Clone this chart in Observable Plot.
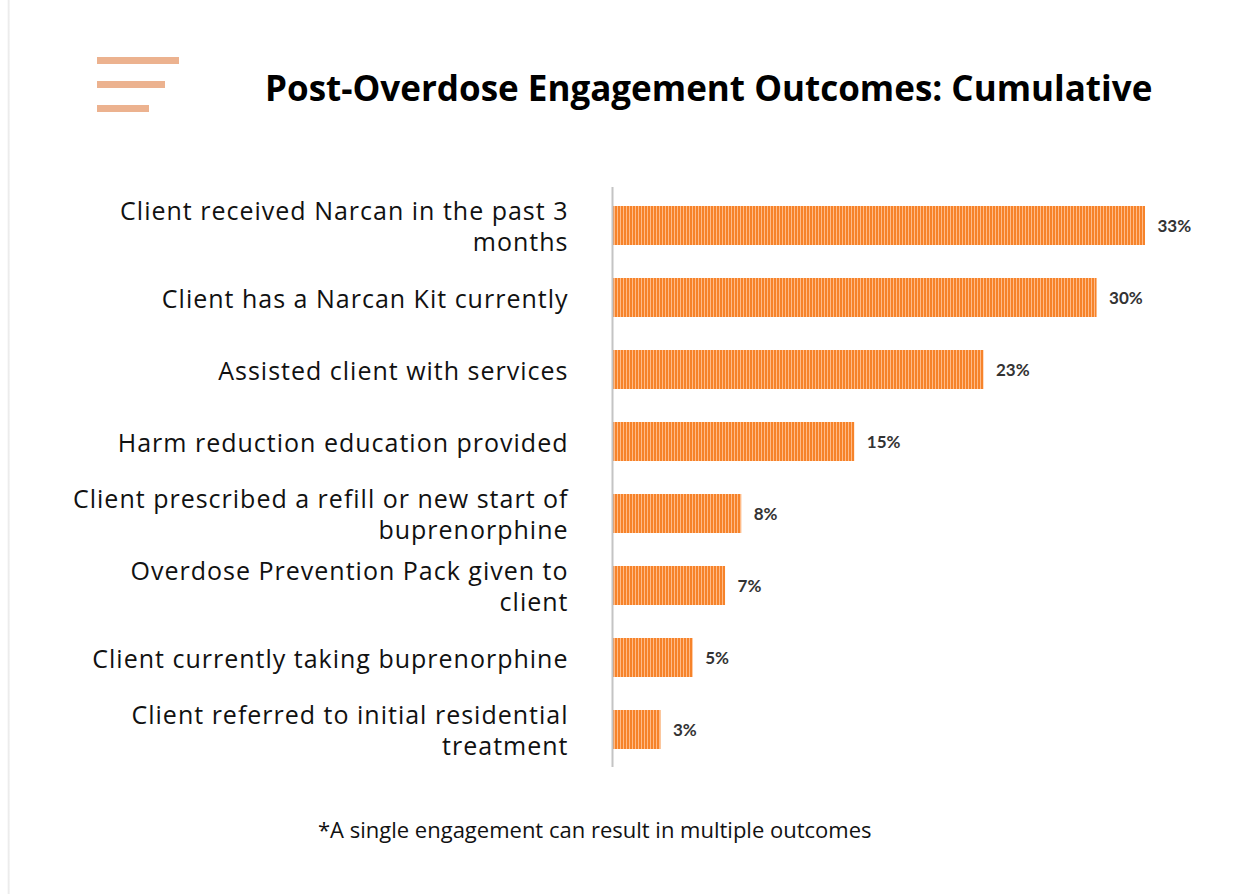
<!DOCTYPE html>
<html><head><meta charset="utf-8">
<script src="https://cdn.jsdelivr.net/npm/d3@7"></script>
<script src="https://cdn.jsdelivr.net/npm/@observablehq/plot@0.6"></script>
<style>
body{margin:0;background:#fff;width:1234px;height:894px;overflow:hidden;position:relative;font-family:"Open Sans",sans-serif;}
#edge{position:absolute;left:7px;top:0;width:3px;height:894px;background:linear-gradient(to right,#fff,#ececec,#f7f7f7);}
.icon{position:absolute;left:97px;height:7px;background:#ECB28F;}
#title{position:absolute;left:265px;top:70px;font-weight:700;font-size:35px;line-height:1;color:#000;white-space:nowrap;}
#chart{position:absolute;left:0;top:160px;}
#note{position:absolute;left:318px;top:818px;font-size:22px;line-height:1;color:#111;white-space:nowrap;}
.cat-labels text{letter-spacing:1px;}
</style></head>
<body>
<div id="edge"></div>
<div class="icon" style="top:57px;width:82px"></div>
<div class="icon" style="top:81px;width:68px"></div>
<div class="icon" style="top:105px;width:52px"></div>
<div id="title">Post-Overdose Engagement Outcomes: Cumulative</div>
<div id="chart"></div>
<div id="note">*A single engagement can result in multiple outcomes</div>
<script>
const categories = [
  "Client received Narcan in the past 3\nmonths",
  "Client has a Narcan Kit currently",
  "Assisted client with services",
  "Harm reduction education provided",
  "Client prescribed a refill or new start of\nbuprenorphine",
  "Overdose Prevention Pack given to\nclient",
  "Client currently taking buprenorphine",
  "Client referred to initial residential\ntreatment"
];
const values = [33, 30, 23, 15, 8, 7, 5, 3];
const valueLabels = ["33%", "30%", "23%", "15%", "8%", "7%", "5%", "3%"];

const data = categories.map((c, i) => ({category: c, value: values[i], label: valueLabels[i]}));

const svg = Plot.plot({
  width: 1234, height: 630,
  marginTop: 27, marginBottom: 23, marginLeft: 612, marginRight: 89,
  style: {fontFamily: "Open Sans", background: "transparent", overflow: "visible"},
  x: {domain: [0, 33], axis: null},
  y: {domain: categories, paddingInner: 0.46, paddingOuter: 0.23, axis: null},
  marks: [
    Plot.barX(data, {x: "value", y: "category", fill: "url(#stripes)"}),
    Plot.ruleX([0], {stroke: "#c4c4c4", strokeWidth: 2}),
    Plot.text(data, {x: 0, y: "category", text: "category", textAnchor: "end", dx: -44, dy: 0,
      fontSize: 25, lineHeight: 1.24, fill: "#111", fontFamily: "Open Sans", className: "cat-labels"}),
    Plot.text(data, {x: "value", y: "category", text: "label", textAnchor: "start", dx: 12, dy: 1,
      fontSize: 17, fontWeight: 700, fill: "#333", fontFamily: "Lato"})
  ]
});

const defs = d3.select(svg).insert("defs", ":first-child");
const pat = defs.append("pattern").attr("id", "stripes").attr("patternUnits", "userSpaceOnUse")
  .attr("width", 3).attr("height", 10);
pat.append("rect").attr("width", 3).attr("height", 10).attr("fill", "#F6832A");
pat.append("rect").attr("x", 2).attr("width", 1).attr("height", 10).attr("fill", "#FFBB88");

document.getElementById("chart").appendChild(svg);
</script>
</body></html>
